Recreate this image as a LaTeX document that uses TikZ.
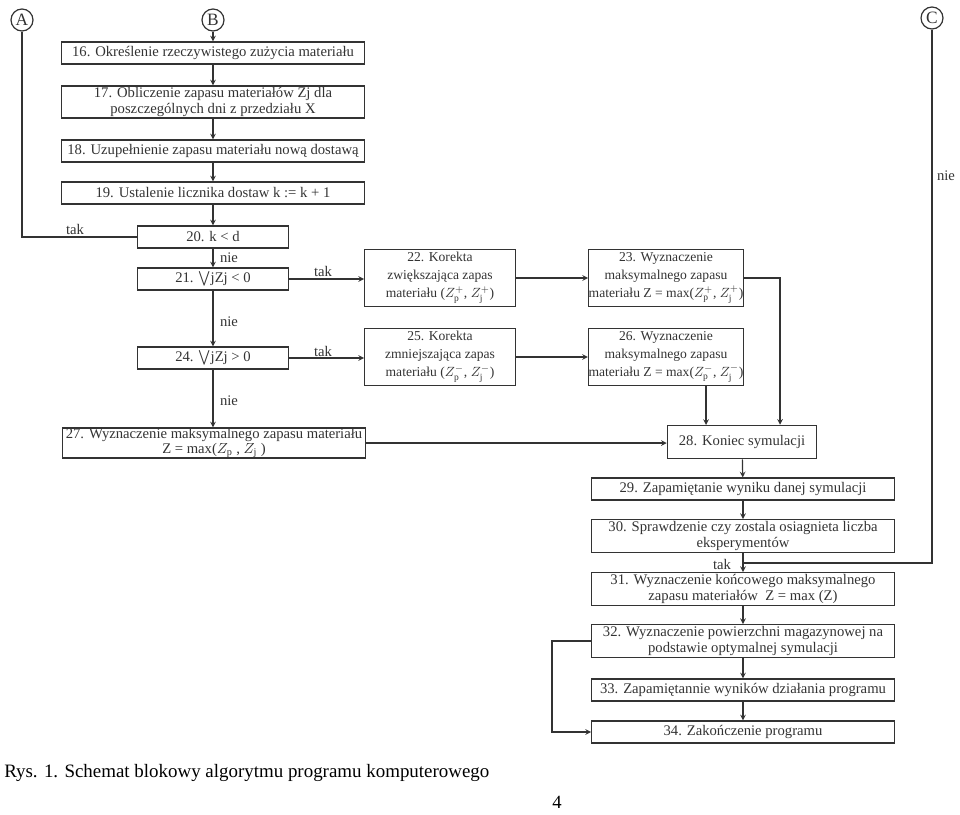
\documentclass[tikz,border=0pt]{standalone}
\usepackage{fontspec}
\setmainfont{Liberation Serif}
\usepackage{amsmath,amssymb}
\usetikzlibrary{positioning}
\definecolor{ink}{HTML}{333333}

\begin{document}
\begin{tikzpicture}[x=0.75pt,y=-0.75pt,
  box/.style={draw=ink,line width=0.9pt,text=ink,align=center,inner sep=0pt,
    font=\fontsize{11}{12.5}\selectfont},
  wide/.style={box,minimum width=227pt},
  small/.style={box,minimum width=113pt,minimum height=16.5pt},
  mid/.style={box,minimum width=113pt,minimum height=43pt,
    font=\fontsize{10.2}{13.5}\selectfont},
  conn/.style={draw=ink,line width=0.9pt,circle,inner sep=0pt,minimum size=16.5pt,
    text=ink,font=\fontsize{13}{13}\selectfont},
  lab/.style={text=ink,font=\fontsize{11}{12}\selectfont,inner sep=1pt},
  line/.style={draw=ink,line width=0.9pt},
  arr/.style={line,->,>=stealth}]
  \useasboundingbox (0,0) rectangle (960,814);
  % connectors
  \node[conn] (A) at (22,20) {A};
  \node[conn] (B) at (213,20) {B};
  \node[conn] (C) at (932,18) {C};
  % left column
  \node[wide,minimum height=16.5pt] (b16) at (213,53) {16. Określenie rzeczywistego zużycia materiału};
  \node[wide,minimum height=24pt] (b17) at (213,102) {17. Obliczenie zapasu materiałów Zj dla\\poszczególnych dni z przedziału X};
  \node[wide,minimum height=16.5pt] (b18) at (213,151) {18. Uzupełnienie zapasu materiału nową dostawą};
  \node[wide,minimum height=16.5pt] (b19) at (213,193) {19. Ustalenie licznika dostaw k := k + 1};
  \node[small] (b20) at (213,237) {20. k < d};
  \node[small] (b21) at (213,279) {21. $\bigvee$jZj < 0};
  \node[small] (b24) at (213,358) {24. $\bigvee$jZj > 0};
  \node[wide,minimum height=22.5pt,font=\fontsize{11}{11.5}\selectfont] (b27) at (214,443) {27. Wyznaczenie maksymalnego zapasu materiału\\Z = max($Z_{\mathrm{p}}$ , $Z_{\mathrm{j}}$ )};
  % middle boxes
  \node[mid] (b22) at (440,278) {22. Korekta\\zwiększająca zapas\\materiału ($Z_{\mathrm{p}}^{+}$, $Z_{\mathrm{j}}^{+}$)};
  \node[mid] (b25) at (440,357) {25. Korekta\\zmniejszająca zapas\\materiału ($Z_{\mathrm{p}}^{-}$, $Z_{\mathrm{j}}^{-}$)};
  \node[mid] (b23) at (666,278) {23. Wyznaczenie\\maksymalnego zapasu\\materiału Z = max($Z_{\mathrm{p}}^{+}$, $Z_{\mathrm{j}}^{+}$)};
  \node[mid] (b26) at (666,357) {26. Wyznaczenie\\maksymalnego zapasu\\materiału Z = max($Z_{\mathrm{p}}^{-}$, $Z_{\mathrm{j}}^{-}$)};
  % right column
  \node[box,minimum width=112pt,minimum height=25pt] (b28) at (742,442) {28. Koniec symulacji};
  \node[wide,minimum height=16.5pt] (b29) at (743,489) {29. Zapamiętanie wyniku danej symulacji};
  \node[wide,minimum height=24.5pt] (b30) at (743,536) {30. Sprawdzenie czy zostala osiagnieta liczba\\eksperymentów};
  \node[wide,minimum height=24.5pt] (b31) at (743,589) {31. Wyznaczenie końcowego maksymalnego\\zapasu materiałów\ \ Z = max (Z)};
  \node[wide,minimum height=24.5pt] (b32) at (743,641) {32. Wyznaczenie powierzchni magazynowej na\\podstawie optymalnej symulacji};
  \node[wide,minimum height=16.5pt] (b33) at (743,690) {33. Zapamiętannie wyników działania programu};
  \node[wide,minimum height=16.5pt] (b34) at (743,732) {34. Zakończenie programu};
  \coordinate (k23) at (780,278);
  \coordinate (k28) at (706,425);
  \coordinate (j30) at (743,563);

  \draw[arr] (B) -- (b16);
  \draw[arr] (b16) -- (b17);
  \draw[arr] (b17) -- (b18);
  \draw[arr] (b18) -- (b19);
  \draw[arr] (b19) -- (b20);
  \draw[line] (b20.west) -| (A.south);
  \draw[arr] (b20) -- (b21);
  \draw[arr] (b21) -- (b24);
  \draw[arr] (b24) -- (b24 |- b27.north);
  \draw[arr] (b21.east) -- (b21.east -| b22.west);
  \draw[arr] (b24.east) -- (b24.east -| b25.west);
  \draw[arr] (b22.east) -- (b22.east -| b23.west);
  \draw[arr] (b25.east) -- (b25.east -| b26.west);
  \draw[arr] (b23.east) -- (k23) -- (k23 |- b28.north);
  \draw[arr] (k28 |- b26.south) -- (k28);
  \draw[arr] (b27.east) -- (b27.east -| b28.west);
  \draw[arr] (b28) -- (b29);
  \draw[arr] (b29) -- (b30);
  \draw[arr] (b30) -- (b31);
  \draw[line] (C.south) |- (j30);
  \draw[arr] (b31) -- (b32);
  \draw[arr] (b32) -- (b33);
  \draw[arr] (b33) -- (b34);
  \draw[arr] (b32.west) -- ++(-39,0) |- (b34.west);
  % labels
  \node[lab] (t20) at (75,229) {tak};
  \node[lab] (n20) at (229,258) {nie};
  \node[lab] (t21) at (323,271) {tak};
  \node[lab] (n21) at (229,322) {nie};
  \node[lab] (t24) at (323,351) {tak};
  \node[lab] (n24) at (229,401) {nie};
  \node[lab] (t30) at (722,564) {tak};
  \node[lab] (nC) at (946,176) {nie};
  % caption
  \node[anchor=west,inner sep=0pt,font=\fontsize{14.2}{16}\selectfont] (cap) at (4,773) {Rys. 1. Schemat blokowy algorytmu programu komputerowego};
  \node[inner sep=0pt,font=\fontsize{14}{16}\selectfont] (page) at (557,802) {4};
\end{tikzpicture}
\end{document}
